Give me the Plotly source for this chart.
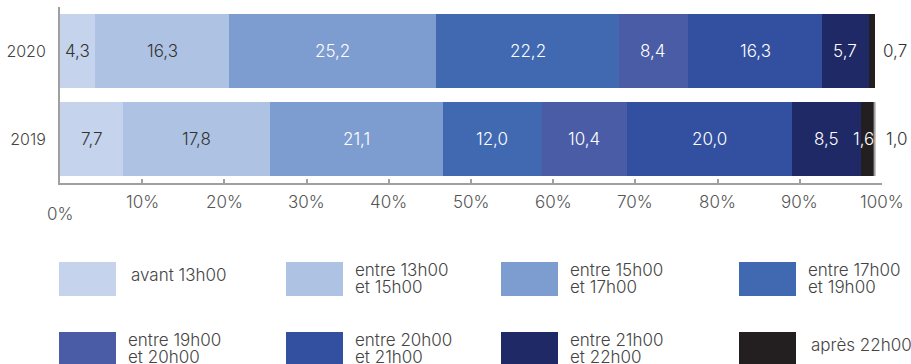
import plotly.graph_objects as go

# Share of deliveries by time slot, per year (%)
years = ["2020", "2019"]
slots = [
    "avant 13h00",
    "entre 13h00\net 15h00",
    "entre 15h00\net 17h00",
    "entre 17h00\net 19h00",
    "entre 19h00\net 20h00",
    "entre 20h00\net 21h00",
    "entre 21h00\net 22h00",
    "après 22h00",
]
values_2020 = [4.3, 16.3, 25.2, 22.2, 8.4, 16.3, 5.7, 0.7]
values_2019 = [7.7, 17.8, 21.1, 12.0, 10.4, 20.0, 8.5, 1.6]
extra_label_2019 = "1,0"
x_ticks = [0, 10, 20, 30, 40, 50, 60, 70, 80, 90, 100]
x_tick_labels = ["0%", "10%", "20%", "30%", "40%", "50%", "60%", "70%", "80%", "90%", "100%"]

colors = ["#c5d3ec", "#aec3e3", "#7d9dd0", "#4069b2",
          "#4a5ca6", "#3350a0", "#1f2966", "#231f20"]
dark_text = {0, 1}

FONT = "Inter"
FS = 17
W, H = 911, 364
L, R, T, B = 60, 29, 7, 181
PW, PH = W - L - R, H - T - B

# bottom-to-top order of the category axis
y_order = ["2019", "2020"]


def px_x(px):
    return (px - L) / PW


def px_y(py):
    return (H - B - py) / PH


def fmt(v):
    return f"{v:.1f}".replace(".", ",")


def font(color, size=FS):
    return dict(family=FONT, size=size, color=color, weight=300)


fig = go.Figure()
series = {"2020": values_2020, "2019": values_2019}
for i, name in enumerate(slots):
    fig.add_trace(go.Bar(
        y=years,
        x=[series[y][i] for y in years],
        orientation="h",
        marker=dict(color=colors[i], line=dict(width=0)),
        name=name.replace("\n", " "),
        showlegend=False,
        hoverinfo="skip",
    ))

annotations = []
# Value labels placed from cumulative sums
for year in years:
    yi = y_order.index(year)
    vals = series[year]
    cum = 0.0
    for i, v in enumerate(vals):
        start = cum
        cum += v
        color = "#333333" if i in dark_text else "#ffffff"
        if v < 1.0:
            annotations.append(dict(x=cum, y=yi, xref="x", yref="y", text=fmt(v),
                                    showarrow=False, xanchor="left", xshift=6,
                                    font=font("#333333")))
        elif v < 2.0:
            annotations.append(dict(x=cum, y=yi, xref="x", yref="y", text=fmt(v),
                                    showarrow=False, xanchor="right", xshift=1,
                                    font=font("#ffffff")))
        else:
            annotations.append(dict(x=start + v / 2, y=yi, xref="x", yref="y", text=fmt(v),
                                    showarrow=False, xanchor="center",
                                    font=font(color)))

total_2019 = sum(values_2019)
annotations.append(dict(x=total_2019, y=y_order.index("2019"), xref="x", yref="y",
                        text=extra_label_2019, showarrow=False, xanchor="left", xshift=9,
                        font=font("#333333")))

# Axis tick labels (0% sits lower than the others)
for v, t in zip(x_ticks, x_tick_labels):
    annotations.append(dict(x=v, y=px_y(202 if v else 214), xref="x", yref="paper", text=t,
                            showarrow=False, xanchor="center", yanchor="middle",
                            font=font("#555555")))

y2019 = y_order.index("2019")
shapes = [dict(type="line", xref="x", yref="y", x0=total_2019, x1=total_2019,
               y0=y2019 - 0.42, y1=y2019 + 0.42, line=dict(color="#a0a0a0", width=2))]

# Legend grid: 4 columns x 2 rows of swatches with labels
col_px = [59, 286, 501, 739]
row_px = [262, 332]
sw_w, sw_h = 57, 34
for i, name in enumerate(slots):
    cx = col_px[i % 4]
    ry = row_px[i // 4]
    shapes.append(dict(type="rect", xref="paper", yref="paper",
                       x0=px_x(cx), x1=px_x(cx + sw_w),
                       y0=px_y(ry + sw_h), y1=px_y(ry),
                       fillcolor=colors[i], line=dict(width=0), layer="above"))
    lines = name.split("\n")
    tx = cx + sw_w + (13 if len(lines) == 1 else 10)
    if len(lines) == 1:
        ys = [ry + 13]
    else:
        ys = [ry + 8, ry + 25]
    for line, ly in zip(lines, ys):
        annotations.append(dict(x=px_x(tx), y=px_y(ly), xref="paper", yref="paper",
                                text=line, showarrow=False, xanchor="left", yanchor="middle",
                                font=font("#444444")))

fig.update_layout(
    barmode="stack",
    bargap=0.16,
    width=W, height=H,
    margin=dict(l=L, r=R, t=T, b=B, autoexpand=False),
    paper_bgcolor="white", plot_bgcolor="white",
    font=font("#444444"),
    xaxis=dict(range=[0, 100], tickvals=x_ticks[1:], showticklabels=False,
               ticks="inside", ticklen=4, tickcolor="#a0a0a0", tickwidth=2,
               showline=True, linecolor="#a0a0a0", linewidth=2, automargin=False,
               showgrid=False, zeroline=False, fixedrange=True),
    yaxis=dict(type="category", categoryorder="array", categoryarray=y_order,
               range=[-0.5, 1.5], ticklabelstandoff=9, automargin=False,
               showline=True, linecolor="#a0a0a0", linewidth=2, ticks="",
               tickfont=font("#444444", 16),
               showgrid=False, zeroline=False, fixedrange=True),
    annotations=annotations,
    shapes=shapes,
)

fig.write_html("out.html")
